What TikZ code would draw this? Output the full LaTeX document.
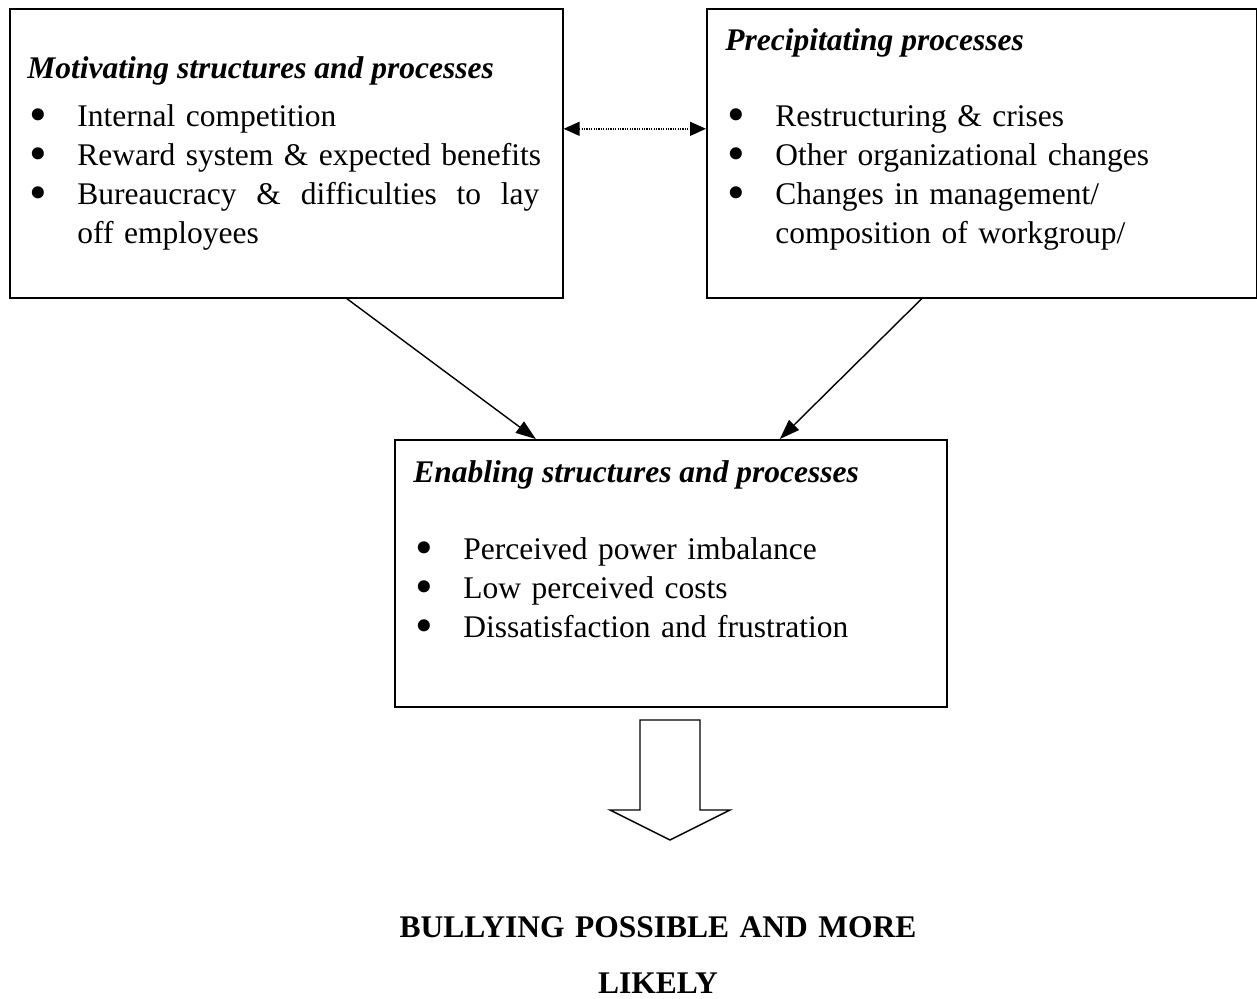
\documentclass[tikz,border=0pt]{standalone}
\usepackage{fontspec}
\setmainfont{Liberation Serif}
\usetikzlibrary{arrows.meta}

% bullet and item with hanging text
\newcommand\blob{\makebox[25pt][l]{\hspace{1.2pt}\smash{\raisebox{-2.8pt}{\scalebox{1.6}{\textbullet}}}}}
\newcommand\bitem[1]{\noindent\blob\parbox[t]{238pt}{\raggedright #1\strut}\par\prevdepth=\dp\strutbox}

\tikzset{factor box/.style={draw, line width=0.8pt, anchor=north west, inner sep=0pt},
    heading/.style={anchor=base west, inner sep=0pt, font=\fontsize{15.75}{19.5}\selectfont\bfseries\itshape},
    item list/.style={anchor=base west, inner sep=0pt, text width=263pt, font=\fontsize{15.75}{19.5}\selectfont},
    influence/.style={-{Triangle[length=10pt,width=7pt]}, line width=0.7pt},
    mutual/.style={{Triangle[length=8pt,width=7pt]}-{Triangle[length=8pt,width=7pt]}, line width=0.7pt, dash pattern=on 0.6pt off 0.6pt},
    outcome/.style={anchor=base, inner sep=0pt, text width=300pt, align=center, font=\fontsize{15.75}{28}\selectfont\bfseries},
}

\begin{document}
\begin{tikzpicture}[x=0.5pt, y=-0.5pt]
	\useasboundingbox (0,0) rectangle (1257,998);

	% the three boxes
	\node[factor box, minimum width=276.5pt, minimum height=144.5pt] (motiv) at (9,8) {};
	\node[factor box, minimum width=275pt, minimum height=144.5pt] (precip) at (706,8) {};
	\node[factor box, minimum width=276pt, minimum height=133.5pt] (enable) at (394,439) {};

	% motivating
	\node[heading] (motiv title) at (27,78) {Motivating structures and processes};
	\node[item list] (motiv list) at (27,126) {%
		\bitem{Internal competition}%
		\bitem{Reward system \& expected benefits}%
		\bitem{\makebox[231pt]{Bureaucracy\hfill\&\hfill difficulties\hfill to\hfill lay}\\ off employees}};

	% precipitating
	\node[heading] (precip title) at (725,50) {Precipitating processes};
	\node[item list] (precip list) at (725,126) {%
		\bitem{Restructuring \& crises}%
		\bitem{Other organizational changes}%
		\bitem{Changes in management/\\ composition of workgroup/}};

	% enabling
	\node[heading] (enable title) at (413,482) {Enabling structures and processes};
	\node[item list] (enable list) at (413,559) {%
		\bitem{Perceived power imbalance}%
		\bitem{Low perceived costs}%
		\bitem{Dissatisfaction and frustration}};

	% links
	\draw[mutual] ([yshift=12.25pt]motiv.east) -- ([yshift=12.25pt]precip.west);
	\draw[influence] ([xshift=30.25pt]motiv.south) -- ([xshift=-67.5pt]enable.north);
	\draw[influence] ([xshift=-30pt]precip.south) -- ([xshift=54.5pt]enable.north);

	% outcome
	\draw[line width=0.7pt] (640,720) -- (700,720) -- (700,810) -- (730,810) -- (670,840)
		-- (610,810) -- (640,810) -- cycle;
	\node[outcome] (bully) at (658,937) {BULLYING POSSIBLE AND MORE\\ LIKELY};
\end{tikzpicture}
\end{document}
